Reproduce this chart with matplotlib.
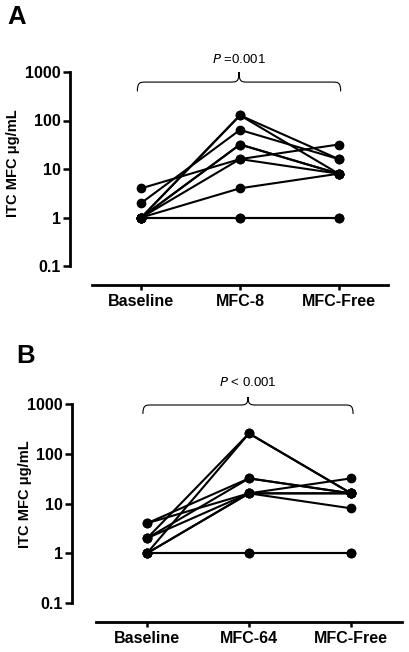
import matplotlib

matplotlib.use("Agg")
import matplotlib.pyplot as plt
import matplotlib.transforms as mtransforms
from matplotlib.patches import PathPatch
from matplotlib.path import Path

plt.rcParams["font.family"] = ["Liberation Sans", "DejaVu Sans"]

# ---------------------------------------------------------------- data
CATS_A = ["Baseline", "MFC-8", "MFC-Free"]
CATS_B = ["Baseline", "MFC-64", "MFC-Free"]
# one row per subject: baseline, on-drug, drug-free (ug/mL)
SUBJ_A = [
    [1, 128, 8], [1, 128, 16], [2, 64, 16], [1, 32, 8], [1, 32, 8],
    [4, 16, 32], [1, 16, 8], [1, 4, 8], [1, 1, 1], [1, 1, 1],
]
SUBJ_B = [
    [1, 256, 16], [2, 256, 16], [4, 32, 16], [2, 32, 16], [1, 16, 32],
    [1, 16, 8], [4, 16, 16], [2, 16, 16], [1, 1, 1], [1, 1, 1],
]
P_A = "=0.001"
P_B = "< 0.001"
YTICKS = [0.1, 1, 10, 100, 1000]
YTICK_LABELS = ["0.1", "1", "10", "100", "1000"]


def brace(ax, x0, x1, y_end, y_bar, y_tip, r=0.09):
    tr = mtransforms.blended_transform_factory(ax.transData, ax.transAxes)
    xm = (x0 + x1) / 2
    verts = [
        (x0, y_end),
        (x0, y_bar), (x0 + r * 0.3, y_bar), (x0 + r, y_bar),
        (xm - r, y_bar),
        (xm - r * 0.3, y_bar), (xm, y_bar), (xm, y_tip),
        (xm, y_bar), (xm + r * 0.3, y_bar), (xm + r, y_bar),
        (x1 - r, y_bar),
        (x1 - r * 0.3, y_bar), (x1, y_bar), (x1, y_end),
    ]
    codes = [Path.MOVETO] + [Path.CURVE4] * 3 + [Path.LINETO] + [Path.CURVE4] * 6 \
        + [Path.LINETO] + [Path.CURVE4] * 3
    ax.add_patch(PathPatch(Path(verts, codes), transform=tr, fill=False,
                           lw=0.8, color="black", clip_on=False))


def panel(ax, cats, subjects, ptxt, ybr, left_off):
    x = list(range(len(cats)))
    for s in subjects:
        ax.plot(x, s, color="black", lw=1.5, marker="o", ms=6, clip_on=False)
    ax.set_yscale("log")
    ax.set_ylim(0.1, 1000)
    ax.set_xlim(-0.5, 2.5)
    ax.set_yticks(YTICKS, YTICK_LABELS)
    ax.minorticks_off()
    ax.set_xticks(x, cats)
    for side in ("top", "right"):
        ax.spines[side].set_visible(False)
    ax.spines["left"].set_position(("outward", left_off))
    ax.spines["bottom"].set_position(("outward", 13.7))
    for side in ("left", "bottom"):
        ax.spines[side].set_linewidth(2.0)
    ax.tick_params(axis="y", length=5, width=1.8, pad=1.5, labelsize=11.5)
    ax.tick_params(axis="x", length=3.5, width=1.8, pad=3, labelsize=11.5)
    for lab in ax.get_xticklabels() + ax.get_yticklabels():
        lab.set_fontweight("bold")
    y_end, y_bar, y_tip, y_txt = ybr
    brace(ax, -0.04, 2.02, y_end, y_bar, y_tip)
    ax.text(0.99, y_txt, r"$\it{P}$ " + ptxt, transform=mtransforms.blended_transform_factory(
        ax.transData, ax.transAxes), ha="center", va="center", fontsize=9.5)


fig = plt.figure(figsize=(4.09, 6.52), dpi=100)
ax_a = fig.add_axes([92 / 409, (652 - 266) / 652, 296 / 409, 194 / 652])
ax_b = fig.add_axes([96 / 409, (652 - 603) / 652, 306 / 409, 199 / 652])

panel(ax_a, CATS_A, SUBJ_A, P_A, (0.90, 0.948, 1.0, 1.067), 15.8)
panel(ax_b, CATS_B, SUBJ_B, P_B, (0.95, 0.995, 1.035, 1.11), 17.3)

fig.text(7 / 409, 1 - 5 / 652, "A", fontsize=18.5, fontweight="bold", va="top")
fig.text(16 / 409, 1 - 344 / 652, "B", fontsize=18.5, fontweight="bold", va="top")
fig.text(13 / 409, 1 - 163 / 652, "ITC MFC μg/mL", rotation=90, fontsize=10.5,
         fontweight="bold", ha="center", va="center")
fig.text(25 / 409, 1 - 494 / 652, "ITC MFC μg/mL", rotation=90, fontsize=10.5,
         fontweight="bold", ha="center", va="center")

fig.savefig("out.png", dpi=100)
